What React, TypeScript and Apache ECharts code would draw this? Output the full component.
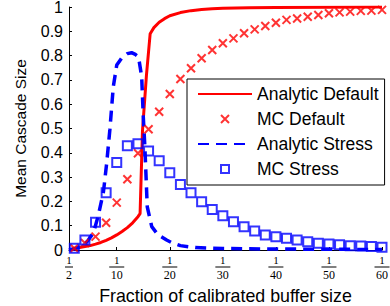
import React, { useEffect, useRef } from "react";
import * as echarts from "echarts";

// x positions of the ticks and their labels (fraction 1/n)
const xTickValues = [1, 10, 20, 30, 40, 50, 60];
const xTickDenominators = ["2", "10", "20", "30", "40", "50", "60"];

// Monte Carlo sample positions
const mcX = [2, 4, 6, 8, 10, 12, 14, 16, 18, 20, 22, 24, 26, 28, 30, 32, 34, 36, 38, 40, 42, 44, 46, 48, 50, 52, 54, 56, 58, 60];
const mcDefault = [0.007, 0.029, 0.055, 0.112, 0.195, 0.291, 0.398, 0.497, 0.569, 0.642, 0.704, 0.748, 0.789, 0.823, 0.851, 0.871, 0.892, 0.908, 0.922, 0.935, 0.947, 0.953, 0.96, 0.967, 0.974, 0.978, 0.981, 0.984, 0.985, 0.988];
const mcStress = [0.007, 0.041, 0.114, 0.236, 0.36, 0.429, 0.437, 0.407, 0.367, 0.318, 0.27, 0.236, 0.199, 0.167, 0.141, 0.116, 0.096, 0.078, 0.062, 0.055, 0.048, 0.041, 0.034, 0.028, 0.025, 0.022, 0.018, 0.016, 0.014, 0.011];

// Analytic curves
const analyticDefaultX = [1, 2, 3, 4, 5, 6, 7, 8, 9, 10, 11, 12, 13, 14, 14.4, 14.85, 15.6, 16.3, 17, 18, 19, 20, 22, 24, 26, 28, 30, 35, 40, 50, 60];
const analyticDefaultY = [0, 0.005, 0.01, 0.014, 0.018, 0.024, 0.031, 0.04, 0.05, 0.062, 0.076, 0.092, 0.112, 0.137, 0.15, 0.49, 0.72, 0.89, 0.915, 0.937, 0.952, 0.964, 0.977, 0.985, 0.99, 0.993, 0.995, 0.997, 0.998, 0.999, 1.0];
const analyticStressX = [1, 2, 3, 4, 4.6, 5.6, 6.5, 7.5, 8.1, 8.7, 9.35, 10, 10.9, 12, 12.8, 13.5, 14.1, 14.7, 15, 15.3, 15.75, 16.6, 17.8, 19.4, 20.4, 22, 24.8, 30, 40, 50, 60];
const analyticStressY = [0, 0.005, 0.012, 0.025, 0.04, 0.07, 0.14, 0.24, 0.357, 0.494, 0.672, 0.761, 0.789, 0.808, 0.812, 0.805, 0.795, 0.713, 0.549, 0.425, 0.178, 0.096, 0.062, 0.041, 0.03, 0.018, 0.01, 0.006, 0.004, 0.003, 0.002];

const seriesNames = ["Analytic Default", "MC Default", "Analytic Stress", "MC Stress"];

const zip = (xs: number[], ys: number[]) => xs.map((x, i) => [x, ys[i]]);

const X_SYMBOL = "path://M0,0L10,10M10,0L0,10";
const SQUARE_SYMBOL = "path://M0,0H10V10H0Z";

export default function App() {
  const ref = useRef<HTMLDivElement>(null);
  useEffect(() => {
    if (!ref.current) return;
    const chart = echarts.init(ref.current, undefined, { renderer: "svg" });
    const sans = "'Liberation Sans', Arial, Helvetica, sans-serif";
    const serif = "'Liberation Serif', 'DejaVu Serif', serif";
    const hidden = { color: "rgba(0,0,0,0)", borderWidth: 0 };
    chart.setOption({
      animation: false,
      backgroundColor: "#fff",
      grid: { left: 69, right: 8, top: 7, bottom: 56, containLabel: false, outerBoundsMode: "none" },
      xAxis: {
        type: "value",
        min: 1,
        max: 60,
        splitLine: { show: false },
        axisLine: { show: true, onZero: false, lineStyle: { color: "#000", width: 1 } },
        axisTick: { show: true, inside: true, length: 3, customValues: xTickValues, lineStyle: { color: "#000" } },
        axisLabel: {
          customValues: xTickValues,
          margin: 5,
          formatter: (v: number) => {
            const i = xTickValues.indexOf(Math.round(v));
            const d = i >= 0 ? xTickDenominators[i] : "";
            return `{n|1}\n{b${d.length > 1 ? "w" : "s"}| }\n{d|${d}}`;
          },
          rich: {
            n: { fontFamily: serif, fontSize: 11, lineHeight: 10, color: "#000", align: "center" },
            bs: { width: 8, height: 1, lineHeight: 4, fontSize: 1, backgroundColor: "#000", align: "center" },
            bw: { width: 15, height: 1, lineHeight: 4, fontSize: 1, backgroundColor: "#000", align: "center" },
            d: { fontFamily: serif, fontSize: 12, lineHeight: 12, color: "#000", align: "center" },
          },
        },
        name: "Fraction of calibrated buffer size",
        nameLocation: "middle",
        nameGap: 37,
        nameTextStyle: { fontFamily: sans, fontSize: 17.8, color: "#000" },
      },
      yAxis: {
        type: "value",
        min: 0,
        max: 1,
        interval: 0.1,
        splitLine: { show: false },
        axisLine: { show: true, lineStyle: { color: "#000", width: 1 } },
        axisTick: { show: true, inside: true, length: 3, lineStyle: { color: "#000" } },
        axisLabel: {
          margin: 6,
          fontFamily: sans,
          fontSize: 16,
          color: "#000",
          formatter: (v: number) => String(Math.round(v * 10) / 10),
        },
        name: "Mean Cascade Size",
        nameLocation: "middle",
        nameGap: 41,
        nameTextStyle: { fontFamily: sans, fontSize: 15.5, color: "#000" },
      },
      legend: {
        show: true,
        orient: "vertical",
        left: 187,
        top: 79,
        padding: [6, 6, 7, 10],
        itemGap: 7,
        itemWidth: 54,
        itemHeight: 8,
        backgroundColor: "#fff",
        borderColor: "#000",
        borderWidth: 1,
        borderRadius: 0,
        data: [
          { name: seriesNames[0], itemStyle: hidden },
          { name: seriesNames[1] },
          { name: seriesNames[2], itemStyle: hidden },
          { name: seriesNames[3] },
        ],
        textStyle: { fontFamily: sans, fontSize: 17.5, lineHeight: 18, color: "#000" },
      },
      series: [
        {
          name: seriesNames[0],
          type: "line",
          data: zip(analyticDefaultX, analyticDefaultY),
          symbol: "none",
          smooth: false,
          lineStyle: { color: "#ff0000", width: 3 },
          itemStyle: { color: "#ff0000" },
          z: 2,
        },
        {
          name: seriesNames[1],
          type: "scatter",
          data: zip(mcX, mcDefault),
          symbol: X_SYMBOL,
          symbolSize: 8,
          itemStyle: { color: "rgba(0,0,0,0)", borderColor: "#ff0000", borderWidth: 2 },
          z: 3,
        },
        {
          name: seriesNames[2],
          type: "line",
          data: zip(analyticStressX, analyticStressY),
          symbol: "none",
          smooth: false,
          lineStyle: { color: "#0000ff", width: 3.5, type: [11, 7] },
          itemStyle: { color: "#0000ff" },
          z: 2,
        },
        {
          name: seriesNames[3],
          type: "scatter",
          data: zip(mcX, mcStress),
          symbol: SQUARE_SYMBOL,
          symbolSize: 9,
          itemStyle: { color: "rgba(0,0,0,0)", borderColor: "#0000ff", borderWidth: 2 },
          z: 3,
        },
      ],
    });
    return () => chart.dispose();
  }, []);
  return (
    <div
      ref={ref}
      style={{ position: "fixed", left: 0, top: 0, width: 390, height: 306, background: "#fff" }}
    />
  );
}
